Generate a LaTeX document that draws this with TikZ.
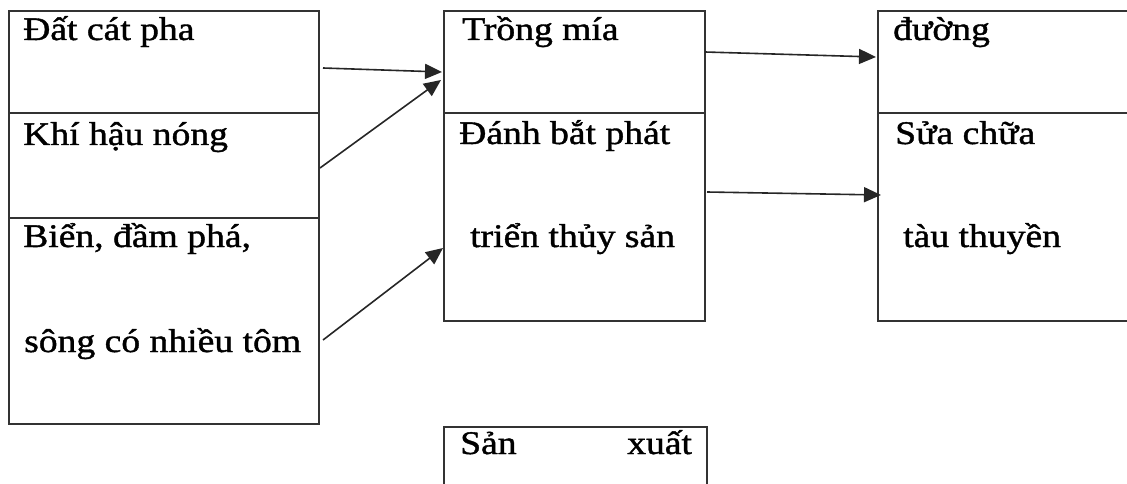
\documentclass[tikz,border=0pt]{standalone}
\usepackage{fontspec}
\setmainfont{Liberation Serif}[FakeStretch=1.14,FakeBold=1.2]
\usetikzlibrary{arrows.meta}
\begin{document}
\begin{tikzpicture}[x=1pt,y=-1pt,
  boxline/.style={draw=black!80,line width=1.8pt},
  lbl/.style={anchor=base west,inner sep=0pt,font=\fontsize{33}{40}\selectfont},
  arr/.style={draw=black!85,line width=1.6pt,-{Triangle[length=17pt,width=15pt]}}]
\useasboundingbox (0,0) rectangle (1127,484);
\clip (0,0) rectangle (1127,484);
% boxes
\node[boxline,rectangle,inner sep=0pt,minimum width=310pt,minimum height=413pt,anchor=north west] (L) at (8,10) {};
\draw[boxline] (8,113) -- (318,113);
\draw[boxline] (8,218) -- (318,218);
\node[boxline,rectangle,inner sep=0pt,minimum width=261pt,minimum height=310pt,anchor=north west] (M) at (443,10) {};
\draw[boxline] (443,113) -- (704,113);
\node[boxline,rectangle,inner sep=0pt,minimum width=300pt,minimum height=310pt,anchor=north west] (R) at (877,10) {};
\draw[boxline] (877,113) -- (1177,113);
\node[boxline,rectangle,inner sep=0pt,minimum width=263pt,minimum height=100pt,anchor=north west] (B) at (443,426) {};
% texts
\node[lbl] (t1) at (23,40) {Đất cát pha};
\node[lbl] (t2) at (23,145) {Khí hậu nóng};
\node[lbl] (t3) at (23,247) {Biển, đầm phá,};
\node[lbl] (t4) at (24,352) {sông có nhiều tôm};
\node[lbl] (t5) at (462,40) {Trồng mía};
\node[lbl] (t6) at (459,144) {Đánh bắt phát};
\node[lbl] (t7) at (470,247) {triển thủy sản};
\node[lbl] (t8) at (460,454) {Sản};
\node[lbl] (t9) at (627,454) {xuất};
\node[lbl] (t10) at (893,40) {đường};
\node[lbl] (t11) at (895,144) {Sửa chữa};
\node[lbl] (t12) at (903,247) {tàu thuyền};
% arrow endpoints
\coordinate (a1s) at (323,68);  \coordinate (a1e) at (442,72);
\coordinate (a2s) at (320,168); \coordinate (a2e) at (441,80);
\coordinate (a3s) at (323,340); \coordinate (a3e) at (443,248);
\coordinate (a4s) at (705,52);  \coordinate (a4e) at (876,57);
\coordinate (a5s) at (707,192); \coordinate (a5e) at (881,195);
\draw[arr] (a1s) -- (a1e);
\draw[arr] (a2s) -- (a2e);
\draw[arr] (a3s) -- (a3e);
\draw[arr] (a4s) -- (a4e);
\draw[arr] (a5s) -- (a5e);
\end{tikzpicture}
\end{document}
